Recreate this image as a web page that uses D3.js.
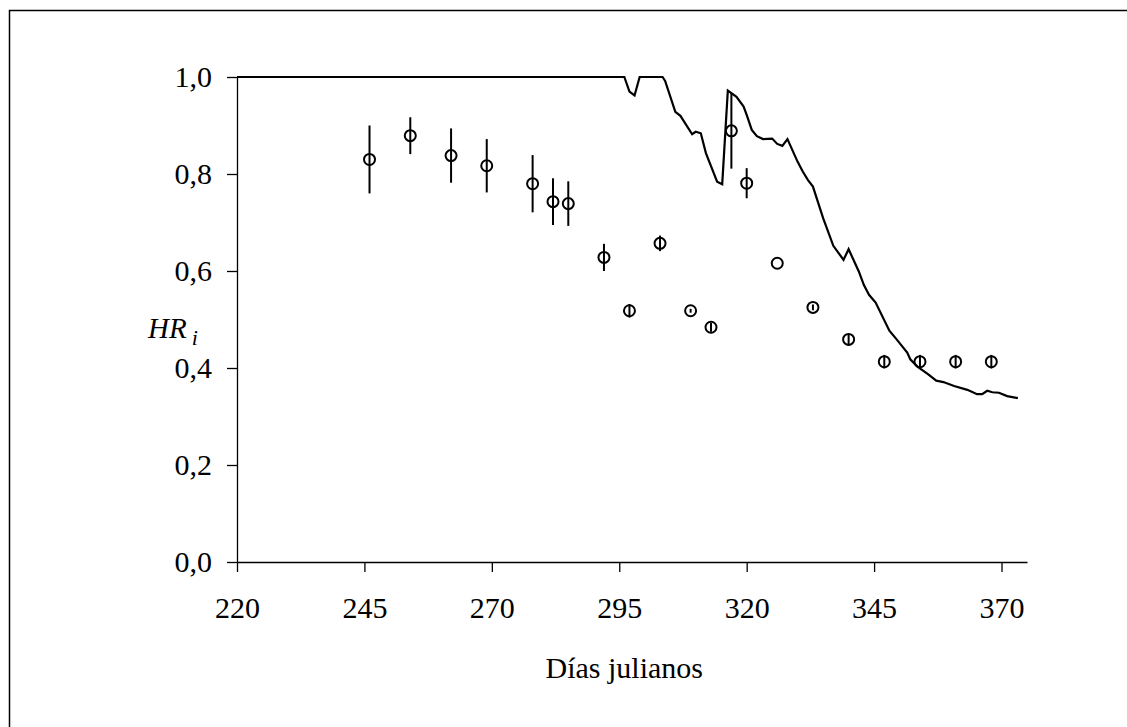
<!DOCTYPE html>
<html>
<head>
<meta charset="utf-8">
<script src="https://cdn.jsdelivr.net/npm/d3@7"></script>
<style>
  html, body { margin: 0; padding: 0; background: #fff; }
  svg { display: block; }
  text { font-family: "Liberation Serif", "Times New Roman", serif; fill: #000; }
</style>
</head>
<body>
<svg id="chart" width="1127" height="727"></svg>
<script>
// ---- Data ----
const xTicks = [220, 245, 270, 295, 320, 345, 370];
const yTicks = [0, 0.2, 0.4, 0.6, 0.8, 1.0];

// Modelled HR_i (line)
const lineDays = [220, 296, 297, 298, 299, 303.5, 304, 306, 307, 309.3, 310, 311, 312, 314.2, 315.2,
  316.3, 318, 319.4, 320, 321, 322, 323.2, 325, 326, 327, 328, 330, 331, 332, 333, 335, 337, 339, 340,
  342, 343, 344, 345.3, 348, 349.5, 351.5, 352.1, 353.5, 355.5, 357.2, 358.6, 360.7, 363.3, 365.2,
  366.2, 367.2, 368.2, 369.5, 371.1, 373.2];
const lineValues = [1.0, 1.0, 0.97, 0.962, 1.0, 1.0, 0.992, 0.928, 0.92, 0.882, 0.887, 0.884, 0.843, 0.784, 0.779,
  0.972, 0.959, 0.939, 0.922, 0.891, 0.878, 0.872, 0.873, 0.862, 0.858, 0.872, 0.825, 0.805, 0.788, 0.774, 0.709, 0.652, 0.623, 0.645,
  0.599, 0.571, 0.551, 0.535, 0.477, 0.458, 0.432, 0.418, 0.403, 0.388, 0.374, 0.371, 0.363, 0.355, 0.346,
  0.346, 0.353, 0.350, 0.349, 0.342, 0.338];

// Observed HR_i (points with error bars)
const obsDays = [246, 254, 262, 269, 278, 282, 285, 292, 297, 303, 309, 313, 317, 320, 326, 333, 340, 347, 354, 361, 368];
const obsValues = [0.830, 0.879, 0.838, 0.817, 0.780, 0.743, 0.739, 0.628, 0.518, 0.657, 0.518, 0.484, 0.889, 0.781, 0.616, 0.525, 0.459, 0.413, 0.413, 0.413, 0.413];
const obsErrors = [0.070, 0.038, 0.056, 0.055, 0.059, 0.048, 0.046, 0.028, 0.014, 0.016, 0.004, 0.009, 0.078, 0.031, 0.0, 0.006, 0.010, 0.014, 0.014, 0.014, 0.014];

// ---- Layout ----
const svg = d3.select("#chart");
const mLeft = 237, mRight = 1027, mTop = 77, mBottom = 562;

const x = d3.scaleLinear().domain([220, 375]).range([mLeft, mRight]);
const y = d3.scaleLinear().domain([0, 1]).range([mBottom, mTop]);

// outer frame (only top and left visible)
svg.append("rect")
  .attr("x", 9.5).attr("y", 10.5)
  .attr("width", 1300).attr("height", 1000)
  .attr("fill", "none").attr("stroke", "#000").attr("stroke-width", 1.5);

// axes
const fmt = d => d3.format(".1f")(d).replace(".", ",");

const xAxis = svg.append("g")
  .attr("transform", `translate(0,${mBottom})`)
  .call(d3.axisBottom(x).tickValues(xTicks).tickSize(10).tickSizeOuter(0).tickPadding(10));
const yAxis = svg.append("g")
  .attr("transform", `translate(${mLeft},0)`)
  .call(d3.axisLeft(y).tickValues(yTicks).tickFormat(fmt).tickSize(10).tickSizeOuter(0).tickPadding(15));

[xAxis, yAxis].forEach(g => {
  g.select(".domain").attr("stroke", "#000").attr("stroke-width", 1.3);
  g.selectAll(".tick line").attr("stroke", "#000").attr("stroke-width", 1.3);
  g.selectAll(".tick text")
    .attr("font-family", '"Liberation Serif", "Times New Roman", serif')
    .attr("font-size", 30).attr("fill", "#000");
});
xAxis.selectAll(".tick text").attr("dy", "1.2em");

// axis titles
svg.append("text")
  .attr("x", (x(295) + 5)).attr("y", 678)
  .attr("text-anchor", "middle")
  .attr("font-size", 30)
  .text("Días julianos");

const yl = svg.append("text")
  .attr("x", 148).attr("y", 338)
  .attr("font-size", 29)
  .attr("font-style", "italic");
yl.append("tspan").text("HR");
yl.append("tspan").attr("dx", 5).attr("dy", 7).attr("font-size", 22).text("i");

// line
const lineData = lineDays.map((d, i) => [d, lineValues[i]]);
svg.append("path")
  .datum(lineData)
  .attr("fill", "none").attr("stroke", "#000").attr("stroke-width", 2.2)
  .attr("stroke-linejoin", "miter")
  .attr("d", d3.line().x(d => x(d[0])).y(d => y(d[1])));

// observed points
const obs = obsDays.map((d, i) => ({ d, v: obsValues[i], e: obsErrors[i] }));
const g = svg.append("g");
g.selectAll("circle").data(obs).join("circle")
  .attr("cx", o => x(o.d)).attr("cy", o => y(o.v)).attr("r", 5.5)
  .attr("fill", "none").attr("stroke", "#000").attr("stroke-width", 2);
g.selectAll("line.err").data(obs.filter(o => o.e > 0)).join("line")
  .attr("class", "err")
  .attr("x1", o => x(o.d)).attr("x2", o => x(o.d))
  .attr("y1", o => y(o.v + o.e)).attr("y2", o => y(o.v - o.e))
  .attr("stroke", "#000").attr("stroke-width", 2);
</script>
</body>
</html>
